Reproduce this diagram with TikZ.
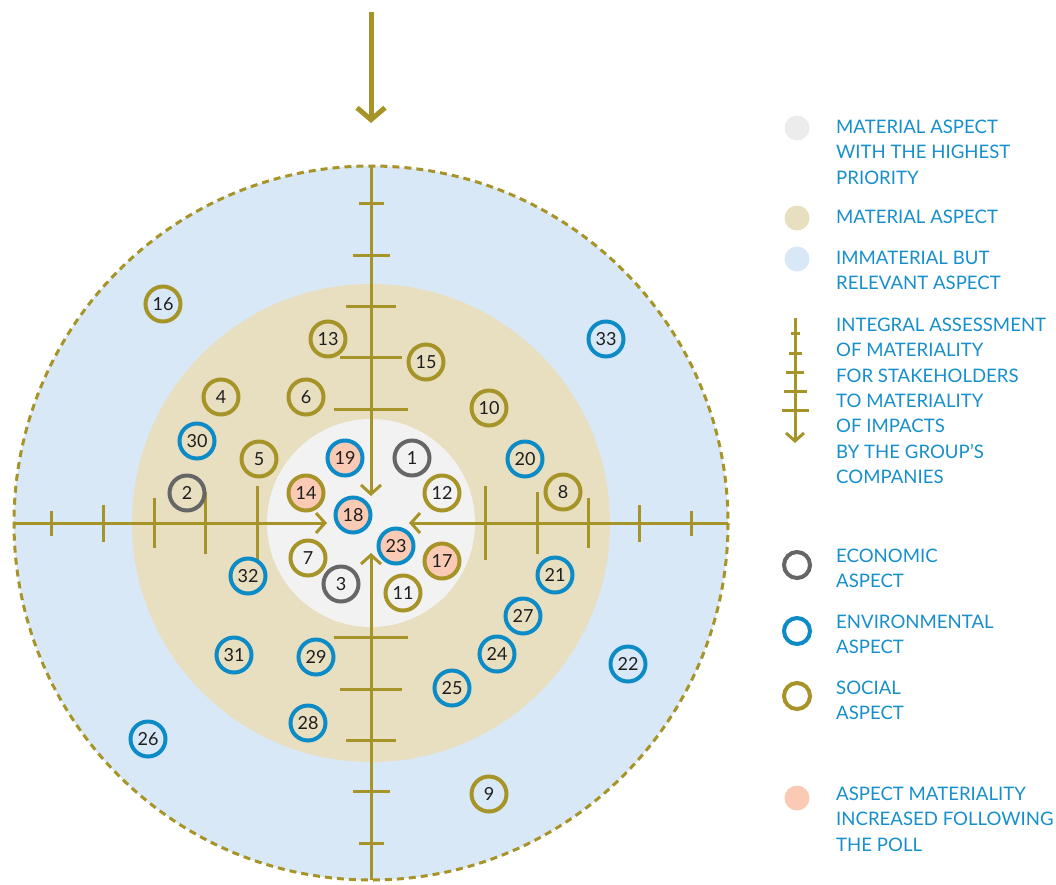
\documentclass[tikz,border=0pt]{standalone}
\usepackage{fontspec}
\setmainfont{Lato}
\usetikzlibrary{arrows.meta,calc,positioning}

\definecolor{olive}{RGB}{167,148,41}
\definecolor{blueback}{RGB}{217,232,246}
\definecolor{beige}{RGB}{232,223,192}
\definecolor{innergray}{RGB}{242,242,242}
\definecolor{keygray}{RGB}{236,236,236}
\definecolor{peach}{RGB}{251,202,180}
\definecolor{envblue}{RGB}{12,139,199}
\definecolor{econgray}{RGB}{102,102,102}
\definecolor{textblue}{RGB}{22,143,204}
\definecolor{numcol}{RGB}{30,30,30}

\begin{document}
\begin{tikzpicture}[
            x=1pt, y=-1pt,
            aspect/.style={circle, minimum size=35pt, inner sep=0pt, line width=4pt, text=numcol, font=\fontsize{18}{18}\selectfont},
            econ/.style={aspect, draw=econgray},
            env/.style={aspect, draw=envblue},
            soc/.style={aspect, draw=olive},
            raised/.style={fill=peach},
            axisline/.style={draw=olive, line width=3pt},
            axisarrow/.style={axisline, -{Straight Barb[length=9pt, width=20pt]}},
            legend/.style={anchor=north west, align=left, inner sep=0pt, text=textblue, font=\fontsize{18.6}{25.3}\selectfont},
            keydot/.style={circle, minimum size=25pt, inner sep=0pt},
            keyring/.style={circle, minimum size=26pt, inner sep=0pt, line width=4pt}
        ]
            \useasboundingbox (0,0) rectangle (1056,884);
            \coordinate (c) at (371,523);

            % zones
            \fill[blueback] (c) circle (357);
            \fill[beige] (c) circle (239);
            \fill[innergray] (c) circle (104);
            \draw[olive, line width=3pt, dash pattern=on 7pt off 5pt] (c) circle (357);

            % feed arrow
            \coordinate (feed) at (371,12);
            \coordinate (feedtip) at (371,123);
            \draw[olive, line width=5pt, -{Straight Barb[length=12pt, width=28pt]}] (feed) -- (feedtip);

            % four scales
            \foreach \dx/\dy/\tip in {0/-1/27, 0/1/30, -1/0/44, 1/0/38}{
                \draw[axisarrow] ($(c)+(357*\dx,357*\dy)$) -- ($(c)+(\tip*\dx,\tip*\dy)$);
                \foreach \d/\h in {114/37, 166/31, 217/25, 268/18.5, 320/12.5}
                    \draw[axisline] ($(c)+(\d*\dx+\h*\dy,\d*\dy+\h*\dx)$) -- ($(c)+(\d*\dx-\h*\dy,\d*\dy-\h*\dx)$);
            }

            % aspects
            \node[soc] (n16) at (163,304) {16};
            \node[soc] (n13) at (328,339) {13};
            \node[soc] (n15) at (426,362) {15};
            \node[env] (n33) at (606,339) {33};
            \node[soc] (n4) at (221,397) {4};
            \node[soc] (n6) at (306,397) {6};
            \node[soc] (n10) at (489,408) {10};
            \node[env] (n30) at (197,441) {30};
            \node[soc] (n5) at (259,459) {5};
            \node[env, raised] (n19) at (345,458) {19};
            \node[econ] (n1) at (412,458) {1};
            \node[env] (n20) at (525,459) {20};
            \node[econ] (n2) at (187,493) {2};
            \node[soc, raised] (n14) at (306,493) {14};
            \node[soc] (n12) at (442,493) {12};
            \node[soc] (n8) at (563,492) {8};
            \node[env, raised] (n18) at (353,515) {18};
            \node[env, raised] (n23) at (396,546) {23};
            \node[soc, raised] (n17) at (442,561) {17};
            \node[soc] (n7) at (308,558) {7};
            \node[econ] (n3) at (341,584) {3};
            \node[soc] (n11) at (403,593) {11};
            \node[env] (n32) at (248,576) {32};
            \node[env] (n21) at (555,575) {21};
            \node[env] (n27) at (523,616) {27};
            \node[env] (n24) at (497,654) {24};
            \node[env] (n31) at (234,655) {31};
            \node[env] (n29) at (316,657) {29};
            \node[env] (n22) at (628,664) {22};
            \node[env] (n25) at (452,688) {25};
            \node[env] (n28) at (308,723) {28};
            \node[env] (n26) at (148,739) {26};
            \node[soc] (n9) at (489,794) {9};

            % legend
            \node[keydot, fill=keygray] (keyHigh) at (797,128) {};
            \node[legend] (legHigh) at (836,120) {MATERIAL ASPECT\\WITH THE HIGHEST\\PRIORITY};
            \node[keydot, fill=beige] (keyMat) at (797,218) {};
            \node[legend] (legMat) at (836,210) {MATERIAL ASPECT};
            \node[keydot, fill=blueback] (keyImm) at (797,259) {};
            \node[legend] (legImm) at (836,251) {IMMATERIAL BUT\\RELEVANT ASPECT};

            \coordinate (keyTop) at (795,318);
            \coordinate (keyTip) at (795,443);
            \draw[axisline, -{Straight Barb[length=8pt, width=18pt]}] (keyTop) -- (keyTip);
            \foreach \y/\h in {333/4.5, 353/6.5, 372/9, 391/11.5, 410/13.5}
                \draw[axisline] ({795-\h},\y) -- ({795+\h},\y);
            \node[legend] (legInt) at (836,318) {INTEGRAL ASSESSMENT\\OF MATERIALITY\\FOR STAKEHOLDERS\\TO MATERIALITY\\OF IMPACTS\\BY THE GROUP’S\\COMPANIES};

            \node[keyring, draw=econgray] (keyEco) at (797,565) {};
            \node[legend] (legEco) at (836,549) {ECONOMIC\\ASPECT};
            \node[keyring, draw=envblue] (keyEnv) at (797,631) {};
            \node[legend] (legEnv) at (836,615) {ENVIRONMENTAL\\ASPECT};
            \node[keyring, draw=olive] (keySoc) at (797,696) {};
            \node[legend] (legSoc) at (836,681) {SOCIAL\\ASPECT};
            \node[keydot, fill=peach] (keyPoll) at (797,798) {};
            \node[legend] (legPoll) at (836,787) {ASPECT MATERIALITY\\INCREASED FOLLOWING\\THE POLL};
        \end{tikzpicture}
\end{document}
